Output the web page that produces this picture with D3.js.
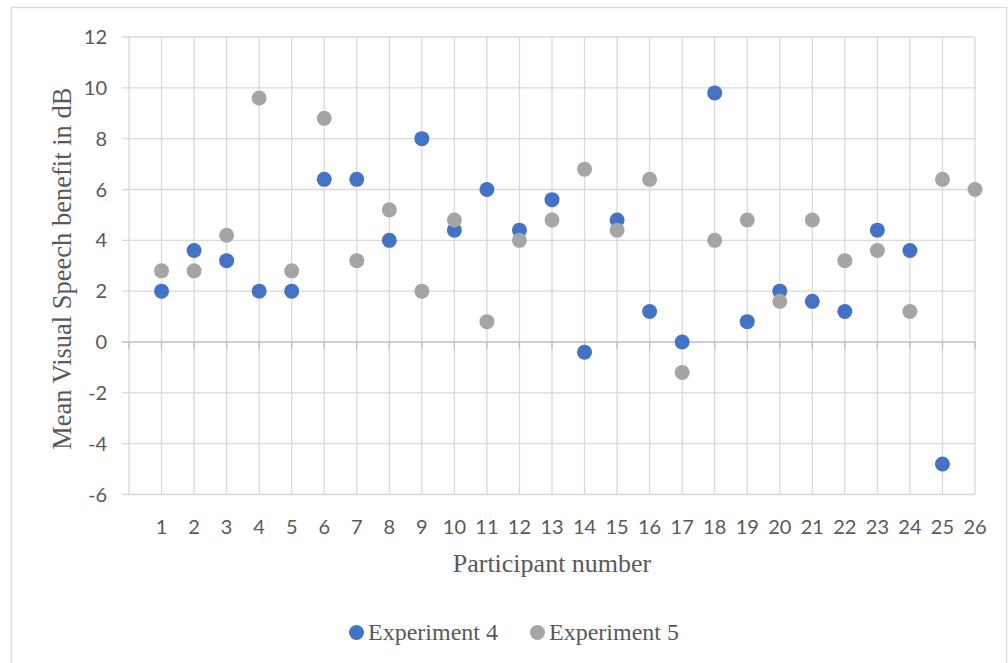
<!DOCTYPE html>
<html>
<head>
<meta charset="utf-8">
<script src="https://cdn.jsdelivr.net/npm/d3@7"></script>
<style>
  html, body { margin: 0; padding: 0; background: #fff; }
  svg { display: block; }
</style>
</head>
<body>
<svg id="chart" width="1008" height="663"></svg>
<script>
const participants = d3.range(1, 27);
const experiment4 = [2, 3.6, 3.2, 2, 2, 6.4, 6.4, 4, 8, 4.4, 6, 4.4, 5.6, -0.4, 4.8, 1.2, 0, 9.8, 0.8, 2, 1.6, 1.2, 4.4, 3.6, -4.8, null];
const experiment5 = [2.8, 2.8, 4.2, 9.6, 2.8, 8.8, 3.2, 5.2, 2, 4.8, 0.8, 4, 4.8, 6.8, 4.4, 6.4, -1.2, 4, 4.8, 1.6, 4.8, 3.2, 3.6, 1.2, 6.4, 6];
const yTicks = [-6, -4, -2, 0, 2, 4, 6, 8, 10, 12];
const seriesNames = ["Experiment 4", "Experiment 5"];
const seriesColors = ["#4472C4", "#A5A5A5"];

const svg = d3.select("#chart");
const tickFont = "Lato, 'Open Sans', sans-serif";
const serif = "'Liberation Serif', 'Times New Roman', serif";

// chart border
svg.append("rect").attr("x", 11.5).attr("y", 7.5).attr("width", 995).attr("height", 660)
  .attr("fill", "none").attr("stroke", "#d9d9d9").attr("stroke-width", 1.3);

const x = d3.scaleLinear().domain([0, 26]).range([129, 975]);
const y = d3.scaleLinear().domain([-6, 12]).range([494.5, 37]);

// horizontal gridlines
svg.append("g").selectAll("line").data(yTicks.filter(d => d !== 0)).join("line")
  .attr("x1", 122).attr("x2", x(26)).attr("y1", d => y(d)).attr("y2", d => y(d))
  .attr("stroke", "#d9d9d9").attr("stroke-width", 1.3);

// vertical gridlines
svg.append("g").selectAll("line").data(d3.range(0, 27)).join("line")
  .attr("x1", d => x(d)).attr("x2", d => x(d)).attr("y1", y(12)).attr("y2", y(-6))
  .attr("stroke", "#d9d9d9").attr("stroke-width", 1.3);

// zero axis line with tick marks
svg.append("line").attr("x1", 122).attr("x2", x(26)).attr("y1", y(0)).attr("y2", y(0))
  .attr("stroke", "#bfbfbf").attr("stroke-width", 1.3);
svg.append("g").selectAll("line").data(d3.range(0, 27)).join("line")
  .attr("x1", d => x(d)).attr("x2", d => x(d)).attr("y1", y(0)).attr("y2", y(0) + 7)
  .attr("stroke", "#bfbfbf").attr("stroke-width", 1.3);

// y tick labels
svg.append("g").selectAll("text").data(yTicks).join("text")
  .attr("x", 107).attr("y", d => y(d)).attr("dy", "0.35em")
  .attr("text-anchor", "end").attr("font-family", tickFont).attr("font-size", 20)
  .attr("fill", "#595959").text(d => d);

// x tick labels
svg.append("g").selectAll("text").data(participants).join("text")
  .attr("x", d => x(d)).attr("y", 526.5).attr("dy", "0.35em")
  .attr("text-anchor", "middle").attr("font-family", tickFont).attr("font-size", 20)
  .attr("fill", "#595959").text(d => d);

// axis titles
svg.append("text").attr("x", (x(0) + x(26)) / 2).attr("y", 572)
  .attr("text-anchor", "middle").attr("font-family", serif).attr("font-size", 26)
  .attr("fill", "#595959").text("Participant number");
svg.append("text").attr("transform", `translate(71,${(y(12) + y(-6)) / 2 + 3}) rotate(-90)`)
  .attr("text-anchor", "middle").attr("font-family", serif).attr("font-size", 26.5)
  .attr("fill", "#595959").text("Mean Visual Speech benefit in dB");

// points
const seriesData = [experiment4, experiment5];
seriesData.forEach((vals, i) => {
  svg.append("g").selectAll("circle")
    .data(participants.map((p, j) => ({ p, v: vals[j] })).filter(d => d.v !== null))
    .join("circle")
    .attr("cx", d => x(d.p)).attr("cy", d => y(d.v)).attr("r", 7.5)
    .attr("fill", seriesColors[i]);
});

// legend
const legendX = [356.5, 537.5];
seriesNames.forEach((name, i) => {
  const g = svg.append("g");
  g.append("circle").attr("cx", legendX[i]).attr("cy", 632.5).attr("r", 7.5).attr("fill", seriesColors[i]);
  g.append("text").attr("x", legendX[i] + 11.5).attr("y", 632.5).attr("dy", "0.33em")
    .attr("font-family", serif).attr("font-size", 24).attr("fill", "#595959").text(name);
});
</script>
</body>
</html>
